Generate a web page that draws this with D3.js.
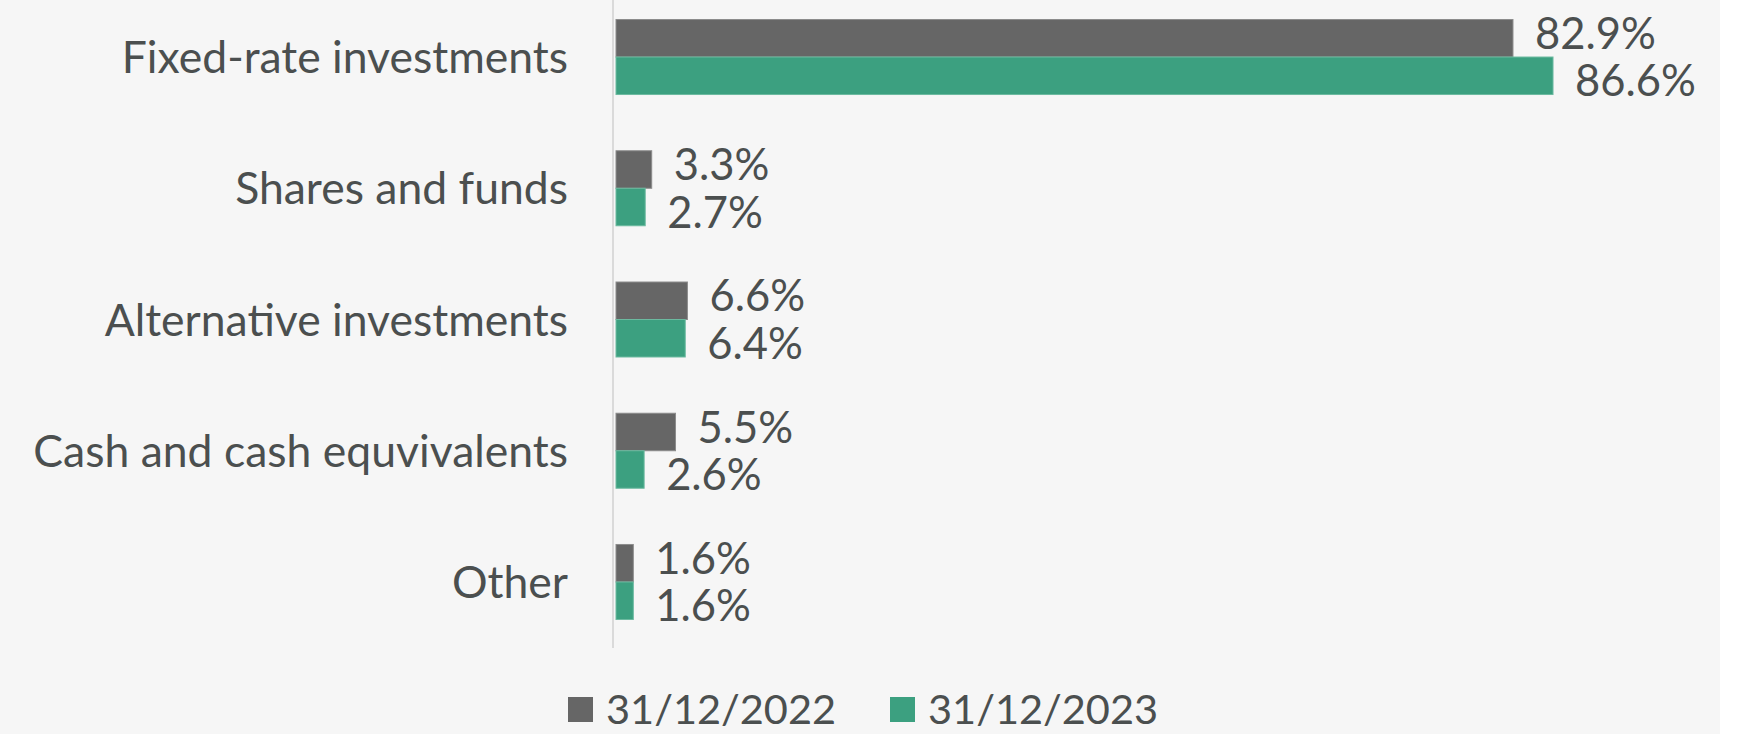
<!DOCTYPE html>
<html>
<head>
<meta charset="utf-8">
<script src="https://cdn.jsdelivr.net/npm/d3@7"></script>
<style>
  html, body { margin: 0; padding: 0; background: #ffffff; }
  svg { display: block; }
  text { font-family: Lato, "Open Sans", sans-serif; fill: #4b4f4f; }
</style>
</head>
<body>
<svg id="chart" width="1745" height="734"></svg>
<script>
// Investment portfolio allocation, two reporting dates
const categories = [
  "Fixed-rate investments",
  "Shares and funds",
  "Alternative investments",
  "Cash and cash equvivalents",
  "Other"
];
const seriesNames = ["31/12/2022", "31/12/2023"];
const values2022 = [82.9, 3.3, 6.6, 5.5, 1.6];
const values2023 = [86.6, 2.7, 6.4, 2.6, 1.6];
const seriesColors = ["#666666", "#3ca080"];
const seriesStrokes = ["#8c8c8c", "#6cbaa0"];

const W = 1745, H = 734;
const svg = d3.select("#chart");

// light panel behind the chart
svg.append("rect")
  .attr("x", 0).attr("y", 0)
  .attr("width", 1720).attr("height", H)
  .attr("fill", "#f6f6f6");

const x0 = 616;
const x = d3.scaleLinear().domain([0, 100]).range([x0, x0 + 1082]);

const y = d3.scaleBand()
  .domain(categories)
  .range([-8.6, 647.6])
  .paddingInner(0)
  .paddingOuter(0);

const barH = 37.5;
const inner = d3.scaleBand()
  .domain([0, 1])
  .range([y.bandwidth() / 2 - barH, y.bandwidth() / 2 + barH]);

// vertical category axis line
svg.append("line")
  .attr("x1", 613).attr("x2", 613)
  .attr("y1", 0).attr("y2", 648)
  .attr("stroke", "#dadada")
  .attr("stroke-width", 2);

// category labels
const yAxis = d3.axisLeft(y).tickSize(0).tickPadding(0);
const axisG = svg.append("g")
  .attr("transform", "translate(568,0)")
  .call(yAxis);
axisG.select(".domain").remove();
axisG.selectAll("text")
  .attr("font-size", 44.5)
  .attr("dy", "0.36em")
  .style("font-family", "Lato, 'Open Sans', sans-serif")
  .attr("fill", "#4b4f4f");

const series = [values2022, values2023];
const groups = svg.append("g");

series.forEach((vals, si) => {
  const rows = categories.map((c, i) => ({ c, v: vals[i] }));
  groups.selectAll(".bar" + si)
    .data(rows)
    .join("rect")
    .attr("class", "bar" + si)
    .attr("x", x(0))
    .attr("y", d => y(d.c) + inner(si))
    .attr("width", d => x(d.v) - x(0))
    .attr("height", inner.bandwidth())
    .attr("fill", seriesColors[si])
    .attr("stroke", seriesStrokes[si])
    .attr("stroke-width", 1);

  // value labels outside bar ends; the two series' labels spread apart
  const nudge = si === 0 ? -5 : 5;
  groups.selectAll(".lbl" + si)
    .data(rows)
    .join("text")
    .attr("class", "lbl" + si)
    .attr("x", d => x(d.v) + 22)
    .attr("y", d => y(d.c) + inner(si) + inner.bandwidth() / 2 + nudge)
    .attr("dy", "0.36em")
    .attr("font-size", 43.5)
    .text(d => d.v.toFixed(1) + "%");
});

// legend
const legendX = [568, 890];
const legend = svg.append("g");
seriesNames.forEach((name, i) => {
  legend.append("rect")
    .attr("x", legendX[i]).attr("y", 697)
    .attr("width", 25).attr("height", 25)
    .attr("fill", seriesColors[i]);
  legend.append("text")
    .attr("x", legendX[i] + 38)
    .attr("y", 709)
    .attr("dy", "0.36em")
    .attr("font-size", 41.5)
    .text(name);
});
</script>
</body>
</html>
